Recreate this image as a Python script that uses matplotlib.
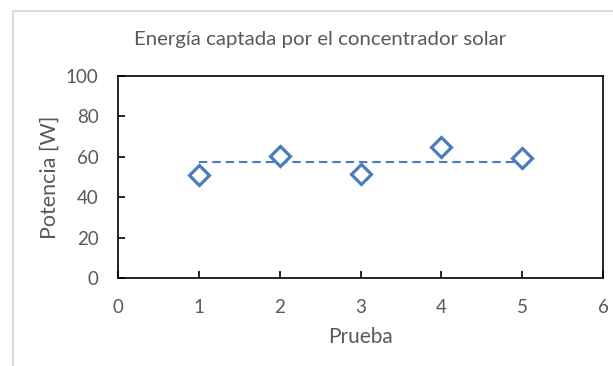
import matplotlib
matplotlib.use("Agg")
import matplotlib.pyplot as plt
from matplotlib.patches import Rectangle

# Measured power per trial
pruebas = [1, 2, 3, 4, 5]
potencia = [51, 60.5, 51.5, 65, 59.5]
x_ticks = [0, 1, 2, 3, 4, 5, 6]
y_ticks = [0, 20, 40, 60, 80, 100]

media = sum(potencia) / len(potencia)

blue = "#4A7EBB"
grey = "#595959"
plt.rcParams["font.family"] = ["Lato", "DejaVu Sans"]

fig = plt.figure(figsize=(6.13, 3.66), dpi=100)
fig.patch.set_facecolor("white")

# light chart-area frame
fig.add_artist(Rectangle((12.5 / 613, -0.1), 1.1, 1 - 10.5 / 366 + 0.1,
                         transform=fig.transFigure, fill=False,
                         edgecolor="#D9D9D9", linewidth=1.3))

x0, x1, y0, y1 = 118, 603, 75.7, 278
ax = fig.add_axes([x0 / 613, 1 - y1 / 366, (x1 - x0) / 613, (y1 - y0) / 366])

ax.plot([pruebas[0], pruebas[-1]], [media, media], linestyle=(0, (4, 2.4)),
        color=blue, linewidth=1.5, zorder=2)
ax.plot(pruebas, potencia, linestyle="none", marker="D", markersize=10.5,
        markerfacecolor="white", markeredgecolor=blue, markeredgewidth=2.3,
        zorder=3)

ax.set_xlim(0, 6)
ax.set_ylim(0, 100)
ax.set_xticks(x_ticks)
ax.set_yticks(y_ticks)

for s in ax.spines.values():
    s.set_color("black")
    s.set_linewidth(1.2)

ax.tick_params(axis="both", direction="in", length=5, width=1.2,
               colors="black", labelcolor=grey, labelsize=13.5)
ax.tick_params(axis="x", pad=14.8)
ax.tick_params(axis="y", pad=14)

ax.set_xlabel("Prueba", color=grey, fontsize=15, va="center")
ax.xaxis.set_label_coords((360 - x0) / (x1 - x0), (y1 - 337) / (y1 - y0))
ax.set_ylabel("Potencia [W]", color=grey, fontsize=15.5, va="center")
ax.yaxis.set_label_coords((50 - x0) / (x1 - x0), 0.5)
fig.text(320 / 613, 1 - 40 / 366, "Energía captada por el concentrador solar",
         ha="center", va="center", color=grey, fontsize=14.7)

fig.savefig("out.png", dpi=100)
